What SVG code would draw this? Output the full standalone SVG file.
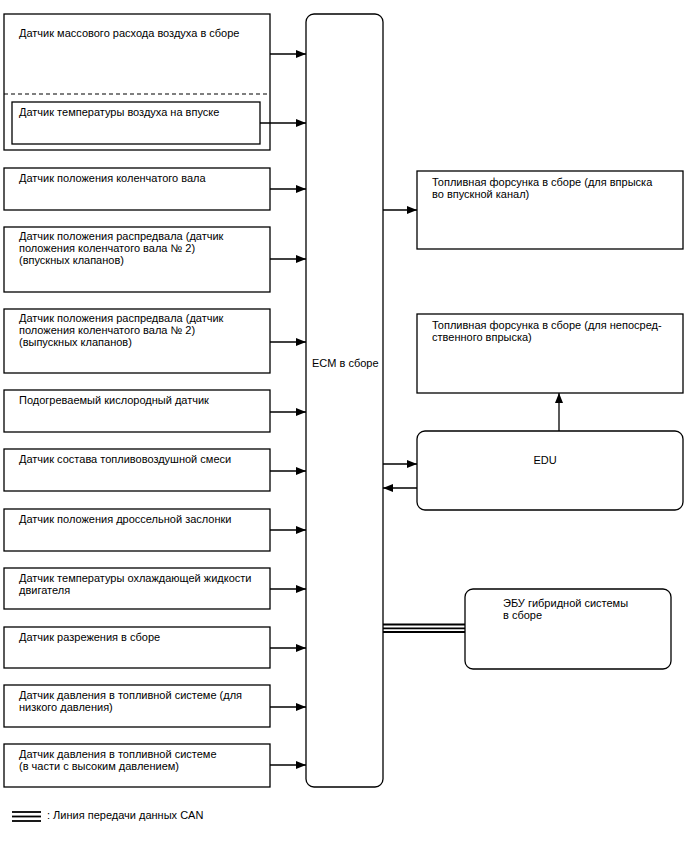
<svg xmlns="http://www.w3.org/2000/svg" width="688" height="852" viewBox="0 0 688 852">
<style>
  .box { fill: #fff; stroke: #000; stroke-width: 1.3; }
  .ln { fill: none; stroke: #000; stroke-width: 1.3; }
  .can { fill: none; stroke: #000; stroke-width: 1.8; }
  text { font-family: "Liberation Sans", Arial, sans-serif; font-size: 11px; fill: #000; }
</style>
<defs>
  <marker id="ah" viewBox="0 0 10 8" refX="10" refY="4" markerWidth="10" markerHeight="8" markerUnits="userSpaceOnUse" orient="auto">
    <path d="M0,0 L10,4 L0,8 Z" fill="#000"/>
  </marker>
</defs>
<rect width="688" height="852" fill="#fff"/>

<g id="maf">
  <rect class="box" x="4" y="14" width="266" height="136"/>
  <text x="19" y="37">Датчик массового расхода воздуха в сборе</text>
  <line x1="4" y1="94" x2="270" y2="94" stroke="#000" stroke-width="1.2" stroke-dasharray="4,3"/>
</g>
<g id="iat">
  <rect class="box" x="12" y="102" width="248" height="42"/>
  <text x="19" y="116">Датчик температуры воздуха на впуске</text>
</g>
<g id="ckp">
  <rect class="box" x="4" y="168" width="266" height="42"/>
  <text x="19" y="182">Датчик положения коленчатого вала</text>
</g>
<g id="cmp-in">
  <rect class="box" x="4" y="227" width="266" height="65"/>
  <text x="19" y="240">Датчик положения распредвала (датчик</text>
  <text x="19" y="252">положения коленчатого вала № 2)</text>
  <text x="19" y="264">(впускных клапанов)</text>
</g>
<g id="cmp-ex">
  <rect class="box" x="4" y="309" width="266" height="64"/>
  <text x="19" y="322">Датчик положения распредвала (датчик</text>
  <text x="19" y="334">положения коленчатого вала № 2)</text>
  <text x="19" y="346">(выпускных клапанов)</text>
</g>
<g id="o2">
  <rect class="box" x="4" y="390" width="266" height="42"/>
  <text x="19" y="404">Подогреваемый кислородный датчик</text>
</g>
<g id="af">
  <rect class="box" x="4" y="449" width="266" height="42"/>
  <text x="19" y="463">Датчик состава топливовоздушной смеси</text>
</g>
<g id="tps">
  <rect class="box" x="4" y="509" width="266" height="42"/>
  <text x="19" y="523">Датчик положения дроссельной заслонки</text>
</g>
<g id="ect">
  <rect class="box" x="4" y="568" width="266" height="41"/>
  <text x="19" y="582">Датчик температуры охлаждающей жидкости</text>
  <text x="19" y="594">двигателя</text>
</g>
<g id="vac">
  <rect class="box" x="4" y="627" width="266" height="41"/>
  <text x="19" y="641">Датчик разрежения в сборе</text>
</g>
<g id="fp-low">
  <rect class="box" x="4" y="685" width="266" height="42"/>
  <text x="19" y="699">Датчик давления в топливной системе (для</text>
  <text x="19" y="711">низкого давления)</text>
</g>
<g id="fp-high">
  <rect class="box" x="4" y="744" width="266" height="43"/>
  <text x="19" y="758">Датчик давления в топливной системе</text>
  <text x="19" y="770">(в части с высоким давлением)</text>
</g>

<g id="ecm">
  <rect class="box" x="306" y="14" width="77" height="773" rx="8" ry="8"/>
  <text x="312" y="367">ECM в сборе</text>
</g>

<g id="inj-port">
  <rect class="box" x="417" y="171" width="266" height="78"/>
  <text x="432" y="186">Топливная форсунка в сборе (для впрыска</text>
  <text x="432" y="198">во впускной канал)</text>
</g>
<g id="inj-direct">
  <rect class="box" x="417" y="314" width="266" height="79"/>
  <text x="432" y="329">Топливная форсунка в сборе (для непосред-</text>
  <text x="432" y="341">ственного впрыска)</text>
</g>
<g id="edu">
  <rect class="box" x="417" y="431" width="266" height="79" rx="8" ry="8"/>
  <text x="545" y="464" text-anchor="middle">EDU</text>
</g>
<g id="hv-ecu">
  <rect class="box" x="465" y="589" width="206" height="80" rx="8" ry="8"/>
  <text x="503" y="607">ЭБУ гибридной системы</text>
  <text x="503" y="619">в сборе</text>
</g>

<g id="connectors">
  <line class="ln" x1="270" y1="54" x2="306" y2="54" marker-end="url(#ah)"/>
  <line class="ln" x1="260" y1="123" x2="306" y2="123" marker-end="url(#ah)"/>
  <line class="ln" x1="270" y1="189" x2="306" y2="189" marker-end="url(#ah)"/>
  <line class="ln" x1="270" y1="259" x2="306" y2="259" marker-end="url(#ah)"/>
  <line class="ln" x1="270" y1="342" x2="306" y2="342" marker-end="url(#ah)"/>
  <line class="ln" x1="270" y1="412" x2="306" y2="412" marker-end="url(#ah)"/>
  <line class="ln" x1="270" y1="471" x2="306" y2="471" marker-end="url(#ah)"/>
  <line class="ln" x1="270" y1="530" x2="306" y2="530" marker-end="url(#ah)"/>
  <line class="ln" x1="270" y1="589" x2="306" y2="589" marker-end="url(#ah)"/>
  <line class="ln" x1="270" y1="648" x2="306" y2="648" marker-end="url(#ah)"/>
  <line class="ln" x1="270" y1="707" x2="306" y2="707" marker-end="url(#ah)"/>
  <line class="ln" x1="270" y1="765" x2="306" y2="765" marker-end="url(#ah)"/>
  <line class="ln" x1="383" y1="210" x2="417" y2="210" marker-end="url(#ah)"/>
  <line class="ln" x1="383" y1="464" x2="417" y2="464" marker-end="url(#ah)"/>
  <line class="ln" x1="417" y1="488" x2="383" y2="488" marker-end="url(#ah)"/>
  <line class="ln" x1="559" y1="431" x2="559" y2="393" marker-end="url(#ah)"/>
  <line class="can" x1="383" y1="624.5" x2="465" y2="624.5"/>
  <line class="can" x1="383" y1="628.3" x2="465" y2="628.3"/>
  <line class="can" x1="383" y1="632" x2="465" y2="632"/>
</g>

<g id="legend">
  <line class="can" x1="12" y1="812" x2="41" y2="812"/>
  <line class="can" x1="12" y1="816.5" x2="41" y2="816.5"/>
  <line class="can" x1="12" y1="821" x2="41" y2="821"/>
  <text x="47" y="819">: Линия передачи данных CAN</text>
</g>
</svg>
